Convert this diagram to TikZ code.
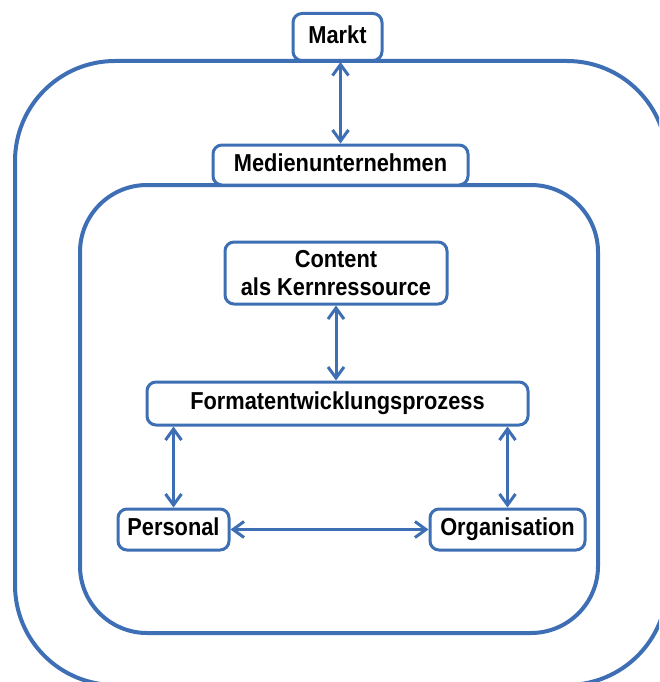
\documentclass[tikz,border=0pt]{standalone}
\usepackage{fontspec}
\setmainfont{Liberation Sans}[FakeStretch=0.89]
\usetikzlibrary{arrows.meta}
\definecolor{bl}{RGB}{62,111,180}
\tikzset{
  frame/.style={draw=bl,line width=4pt},
  box/.style={draw=bl,line width=3pt,fill=white,rounded corners=9pt,inner sep=0pt,
     font=\fontsize{24.5}{28}\selectfont\bfseries,align=center,text=black},
  oneline/.style={text height=17.5pt,text depth=5pt},
  conn/.style={draw=bl,line width=3pt,{Straight Barb[length=11pt,width=16pt]}-{Straight Barb[length=11pt,width=16pt]}}
}
\begin{document}
\begin{tikzpicture}[x=1pt,y=-1pt]
\useasboundingbox (0,0) rectangle (659,682);
\begin{scope}
\clip (0,0) rectangle (659,682);
\draw[frame,rounded corners=100pt] (15,61) rectangle (667,685);
\draw[frame,rounded corners=67pt] (80,185) rectangle (598,633);
\end{scope}
\node[box,oneline,minimum width=89pt,minimum height=47pt] (markt) at (337.5,37) {Markt};
\node[box,oneline,minimum width=255pt,minimum height=40pt] (medien) at (340.5,165) {Medienunternehmen};
\node[box,minimum width=222pt,minimum height=62pt] (content) at (336,273) {Content\\als Kernressource};
\node[box,oneline,minimum width=381pt,minimum height=43pt] (format) at (337.5,403.5) {Formatentwicklungsprozess};
\node[box,oneline,minimum width=111pt,minimum height=41pt] (personal) at (173.5,529.5) {Personal};
\node[box,oneline,minimum width=155pt,minimum height=41pt] (orga) at (507.5,529.5) {Organisation};
\draw[conn] (medien.north |- markt.south) -- (medien.north);
\draw[conn] (content.south) -- (content.south |- format.north);
\draw[conn] (personal.north |- format.south) -- (personal.north);
\draw[conn] (orga.north |- format.south) -- (orga.north);
\draw[conn] (personal.east) -- (orga.west);
\end{tikzpicture}
\end{document}
